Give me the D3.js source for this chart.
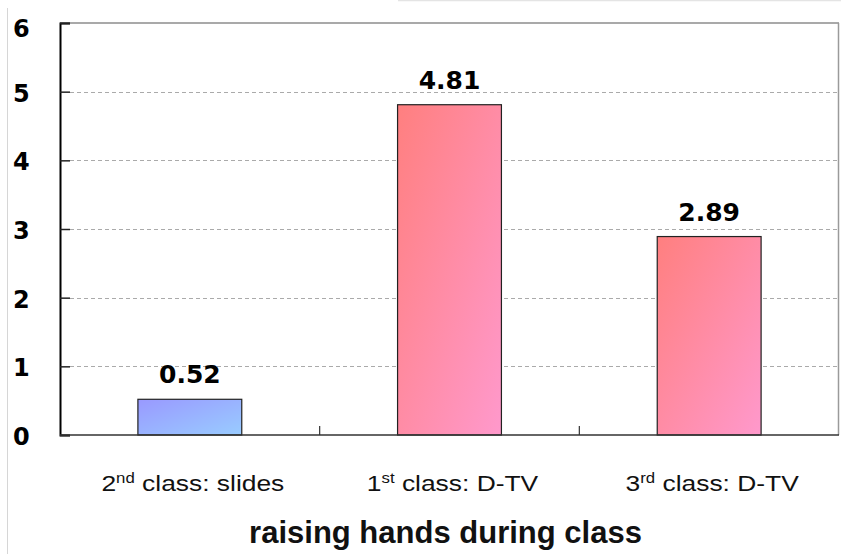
<!DOCTYPE html>
<html>
<head>
<meta charset="utf-8">
<script src="https://cdn.jsdelivr.net/npm/d3@7"></script>
<style>
html,body{margin:0;padding:0;background:#fff;}
svg{display:block;}
</style>
</head>
<body>
<svg id="chart" width="841" height="554"></svg>
<script>
const categories = ["2nd class: slides", "1st class: D-TV", "3rd class: D-TV"];
const values = [0.52, 4.81, 2.89];
const valueLabels = ["0.52", "4.81", "2.89"];
const yTicks = [0, 1, 2, 3, 4, 5, 6];
const barColorSets = [["#9999ff", "#99ccff"], ["#ff7f7f", "#ff99cc"], ["#ff7f7f", "#ff99cc"]];
const title = "raising hands during class";

const svg = d3.select("#chart");
const W = 841, H = 554;
const m = {left: 60, right: 2, top: 23, bottom: 119};
const x0 = m.left, x1 = W - m.right, y0 = H - m.bottom, yTop = m.top;

// decorative frame lines
svg.append("line").attr("x1", 7.5).attr("x2", 7.5).attr("y1", 8).attr("y2", H)
  .attr("stroke", "#d6d6d6").attr("stroke-width", 1);
svg.append("line").attr("x1", 398).attr("x2", W).attr("y1", 0.5).attr("y2", 0.5)
  .attr("stroke", "#e4e4e4").attr("stroke-width", 1.5);

const x = d3.scaleBand().domain(categories).range([x0, x1]).paddingInner(0).paddingOuter(0);
const y = d3.scaleLinear().domain([0, 6]).range([y0, yTop]);

const defs = svg.append("defs");
barColorSets.forEach((c, i) => {
  const g = defs.append("linearGradient").attr("id", "grad" + i)
    .attr("x1", 0).attr("y1", 0).attr("x2", 1).attr("y2", 1);
  g.append("stop").attr("offset", "0%").attr("stop-color", c[0]);
  g.append("stop").attr("offset", "100%").attr("stop-color", c[1]);
});

// gridlines
svg.append("g").selectAll("line").data(yTicks.filter(t => t > 0 && t < 6)).join("line")
  .attr("x1", x0 + 10).attr("x2", x1 - 1)
  .attr("y1", d => Math.round(y(d)) + 0.5).attr("y2", d => Math.round(y(d)) + 0.5)
  .attr("stroke", "#aaaaaa").attr("stroke-width", 1).attr("stroke-dasharray", "4,3");

// frame: top and right
svg.append("line").attr("x1", x0).attr("x2", x1).attr("y1", yTop).attr("y2", yTop)
  .attr("stroke", "#8c8c8c").attr("stroke-width", 1.5);
svg.append("line").attr("x1", x1 - 0.5).attr("x2", x1 - 0.5).attr("y1", yTop).attr("y2", y0)
  .attr("stroke", "#9a9a9a").attr("stroke-width", 1.5);

// bars
const bw = x.bandwidth() * 0.4;
svg.append("g").selectAll("rect").data(values).join("rect")
  .attr("x", (d, i) => x(categories[i]) + (x.bandwidth() - bw) / 2)
  .attr("y", d => y(d))
  .attr("width", bw)
  .attr("height", d => y0 - y(d))
  .attr("fill", (d, i) => "url(#grad" + i + ")")
  .attr("stroke", "#222").attr("stroke-width", 1.2);

// y axis (inner ticks)
const yAxis = d3.axisRight(y).tickValues(yTicks).tickSize(10).tickFormat("");
const ya = svg.append("g").attr("transform", `translate(${x0},0)`).call(yAxis);
ya.select(".domain").attr("stroke", "#000").attr("stroke-width", 2);
ya.selectAll(".tick line").attr("stroke", "#222").attr("stroke-width", 1.5);

// y tick labels
svg.append("g").selectAll("text").data(yTicks).join("text")
  .attr("x", 13).attr("y", d => y(d) + (d === 6 ? 7 : 3))
  .attr("dominant-baseline", "middle")
  .attr("font-family", "DejaVu Sans, sans-serif").attr("font-weight", "bold")
  .attr("font-size", 24).attr("fill", "#000")
  .text(d => d);

// x axis baseline and category separator ticks
const bounds = categories.slice(1).map(c => x(c));
svg.append("line").attr("x1", x0).attr("x2", x1).attr("y1", y0).attr("y2", y0)
  .attr("stroke", "#333").attr("stroke-width", 1.5);
svg.append("g").selectAll("line").data(bounds).join("line")
  .attr("x1", d => d).attr("x2", d => d).attr("y1", y0).attr("y2", y0 - 9)
  .attr("stroke", "#333").attr("stroke-width", 1.2);

// value labels
svg.append("g").selectAll("text").data(values).join("text")
  .attr("x", (d, i) => x(categories[i]) + x.bandwidth() / 2)
  .attr("y", d => y(d) - 16)
  .attr("text-anchor", "middle")
  .attr("font-family", "DejaVu Sans, sans-serif").attr("font-weight", "bold")
  .attr("font-size", 25).attr("fill", "#000")
  .text((d, i) => valueLabels[i]);

// category labels with superscripts (slightly widened like the reference)
const catG = svg.append("g");
categories.forEach(c => {
  const mt = c.match(/^(\d+)(st|nd|rd|th)(.*)$/);
  const cx = x(c) + x.bandwidth() / 2 + 3;
  const t = catG.append("text")
    .attr("transform", `translate(${cx},491) scale(1.2,1)`)
    .attr("text-anchor", "middle")
    .attr("font-family", "Liberation Sans, Arial, sans-serif")
    .attr("font-size", 22).attr("fill", "#111");
  t.append("tspan").text(mt[1]);
  t.append("tspan").attr("font-size", 14).attr("dy", -8).text(mt[2]);
  t.append("tspan").attr("dy", 8).text(mt[3]);
});

// title
svg.append("text").attr("x", 445.5).attr("y", 543)
  .attr("text-anchor", "middle")
  .attr("font-family", "Liberation Sans, Arial, sans-serif").attr("font-weight", "bold")
  .attr("font-size", 31).attr("fill", "#111")
  .text(title);
</script>
</body>
</html>
